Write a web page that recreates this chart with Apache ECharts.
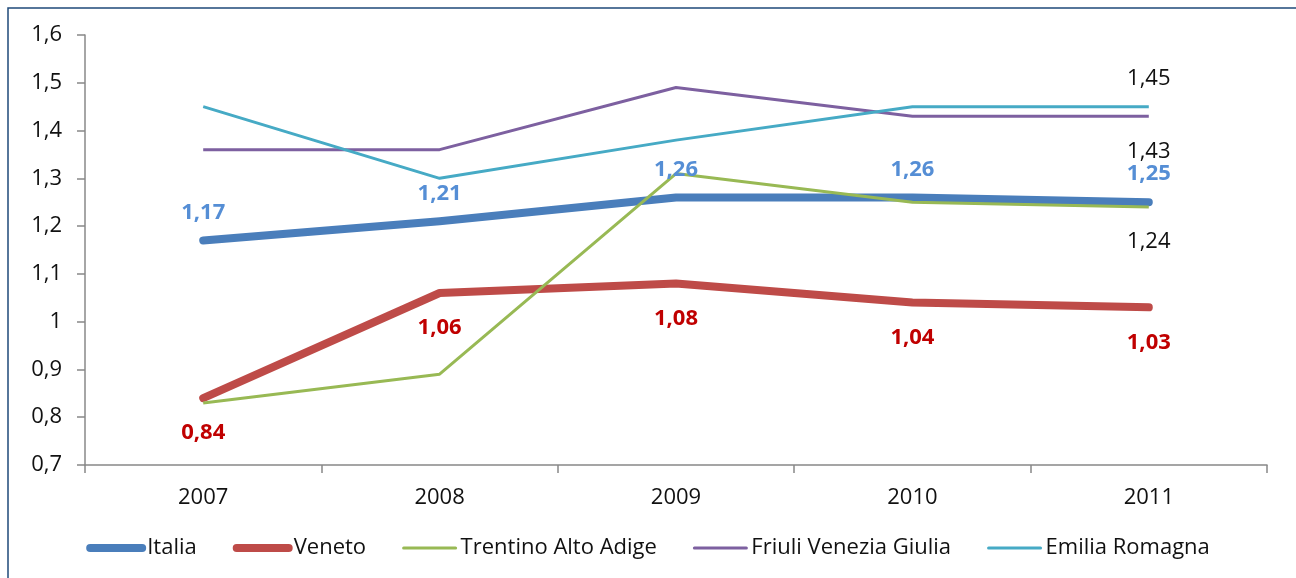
<!DOCTYPE html>
<html>
<head>
<meta charset="utf-8">
<script src="https://cdn.jsdelivr.net/npm/echarts@6/dist/echarts.min.js"></script>
<style>
  html, body { margin: 0; padding: 0; background: #fff; }
  #chart { width: 1296px; height: 578px; }
</style>
</head>
<body>
<div id="chart"></div>
<script>
var years = ['2007', '2008', '2009', '2010', '2011'];
var italia = [1.17, 1.21, 1.26, 1.26, 1.25];
var veneto = [0.84, 1.06, 1.08, 1.04, 1.03];
var trentino = [0.83, 0.89, 1.31, 1.25, 1.24];
var friuli = [1.36, 1.36, 1.49, 1.43, 1.43];
var emilia = [1.45, 1.30, 1.38, 1.45, 1.45];

var fontName = 'Open Sans';
var fs = 22;

function comma(v) {
    return v.toFixed(2).replace('.', ',');
}

// label only on the last point (2011)
function lastLabel(arr, pos, dist) {
    return arr.map(function (v, i) {
        if (i !== arr.length - 1) return v;
        return {
            value: v,
            label: {
                show: true, position: pos, distance: dist,
                color: '#111', fontSize: fs, fontFamily: fontName,
                formatter: function (p) { return comma(p.value); }
            }
        };
    });
}

var myChart = echarts.init(document.getElementById('chart'));

option = {
    animation: false,
    backgroundColor: '#fff',
    graphic: [{
        type: 'rect',
        shape: { x: 8, y: 8, width: 1320, height: 620 },
        style: { fill: 'none', stroke: '#1F4A7A', lineWidth: 1.5 }
    }],
    grid: { left: 85, right: 29, top: 35, bottom: 113, containLabel: false },
    legend: {
        bottom: 14,
        left: 'center',
        itemWidth: 52,
        itemHeight: 10,
        itemGap: 36,
        itemStyle: { opacity: 0 },
        textStyle: { fontFamily: fontName, fontSize: fs, color: '#111' },
        data: [
            { name: 'Italia', lineStyle: { width: 8, cap: 'round' } },
            { name: 'Veneto', lineStyle: { width: 8, cap: 'round' } },
            { name: 'Trentino Alto Adige', lineStyle: { width: 3, cap: 'round' } },
            { name: 'Friuli Venezia Giulia', lineStyle: { width: 3, cap: 'round' } },
            { name: 'Emilia Romagna', lineStyle: { width: 3, cap: 'round' } }
        ]
    },
    xAxis: {
        type: 'category',
        data: years,
        boundaryGap: true,
        axisLine: { lineStyle: { color: '#888', width: 1.5 } },
        axisTick: { show: true, length: 8, lineStyle: { color: '#888', width: 1.5 } },
        axisLabel: { fontFamily: fontName, fontSize: fs, color: '#111', margin: 22 }
    },
    yAxis: {
        type: 'value',
        min: 0.7,
        max: 1.6,
        interval: 0.1,
        splitLine: { show: false },
        axisLine: { show: true, lineStyle: { color: '#888', width: 1.5 } },
        axisTick: { show: true, length: 8, lineStyle: { color: '#888', width: 1.5 } },
        axisLabel: {
            fontFamily: fontName, fontSize: fs, color: '#111', margin: 23,
            formatter: function (v) { return String(Number(v.toFixed(1))).replace('.', ','); }
        }
    },
    series: [
        {
            name: 'Italia',
            type: 'line',
            data: italia,
            symbol: 'circle',
            symbolSize: 0.1,
            color: '#4A7EBB',
            lineStyle: { width: 8, cap: 'round', join: 'round' },
            label: {
                show: true, position: 'top', distance: 17,
                color: '#558ED5', fontWeight: 'bold', fontSize: fs, fontFamily: fontName,
                formatter: function (p) { return comma(p.value); }
            }
        },
        {
            name: 'Veneto',
            type: 'line',
            data: veneto,
            symbol: 'circle',
            symbolSize: 0.1,
            color: '#BE4B48',
            lineStyle: { width: 8, cap: 'round', join: 'round' },
            label: {
                show: true, position: 'bottom', distance: 24,
                color: '#C00000', fontWeight: 'bold', fontSize: fs, fontFamily: fontName,
                formatter: function (p) { return comma(p.value); }
            }
        },
        {
            name: 'Trentino Alto Adige',
            type: 'line',
            data: lastLabel(trentino, 'bottom', 24),
            symbol: 'circle',
            symbolSize: 0.1,
            color: '#98B954',
            lineStyle: { width: 3 }
        },
        {
            name: 'Friuli Venezia Giulia',
            type: 'line',
            data: lastLabel(friuli, 'bottom', 24),
            symbol: 'circle',
            symbolSize: 0.1,
            color: '#7D60A0',
            lineStyle: { width: 3 }
        },
        {
            name: 'Emilia Romagna',
            type: 'line',
            data: lastLabel(emilia, 'top', 17),
            symbol: 'circle',
            symbolSize: 0.1,
            color: '#46AAC5',
            lineStyle: { width: 3 }
        }
    ]
};

myChart.setOption(option);
</script>
</body>
</html>
